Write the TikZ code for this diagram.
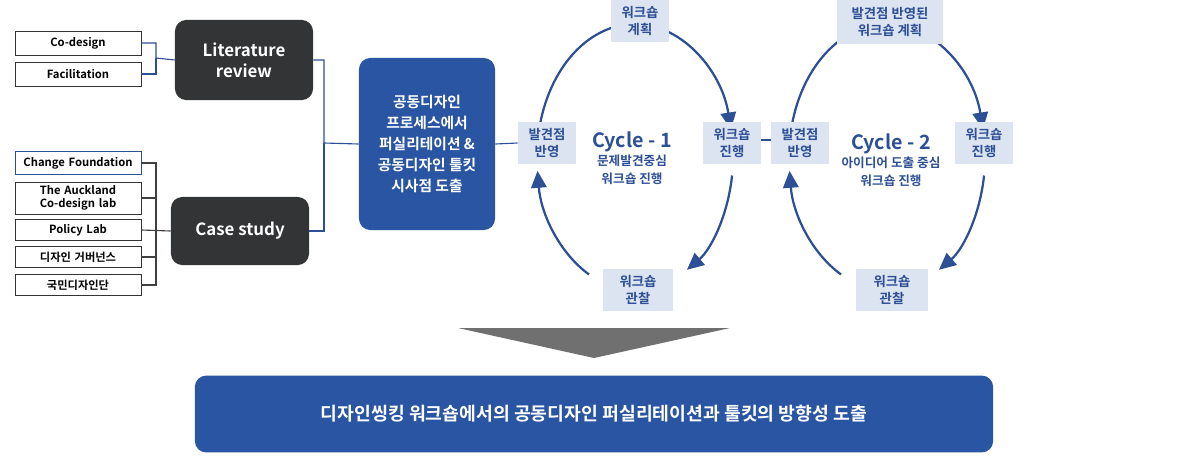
\documentclass[tikz,border=0pt]{standalone}
\usepackage{fontspec}
\setmainfont{Noto Sans CJK KR}[BoldFont={Noto Sans CJK KR Bold}]
\usetikzlibrary{arrows.meta}
\definecolor{darkbox}{HTML}{333435}
\definecolor{mainblue}{HTML}{2A55A3}
\definecolor{lineblue}{HTML}{2D4F96}
\definecolor{paleblue}{HTML}{DCE4F1}
\definecolor{arrowgray}{HTML}{707070}

\begin{document}
\begin{tikzpicture}[x=0.025cm,y=-0.025cm,font=\bfseries,
  item/.style={draw=black!80,line width=0.6pt,minimum width=3.15cm,
    text width=3cm,align=center,font=\bfseries\fontsize{8}{9}\selectfont,inner sep=1pt},
  dark/.style={fill=darkbox,rounded corners=8pt,text=white,align=center,
    font=\bfseries\fontsize{12}{15}\selectfont,minimum width=3.45cm,inner sep=0pt},
  stage/.style={fill=paleblue,text=lineblue,align=center,
    font=\bfseries\fontsize{9.5}{12}\selectfont,inner sep=0pt,minimum height=1.05cm},
  link/.style={lineblue,line width=0.8pt},
  cyc/.style={lineblue,line width=1.6pt},
  tip/.style={-{Triangle[length=12pt,width=11pt]}}]
  \useasboundingbox (0,0) rectangle (1200,462);
  % left items
  \node[item,minimum height=0.6cm] (cod) at (78,43) {Co-design};
  \node[item,minimum height=0.6cm] (fac) at (78,74) {Facilitation};
  \node[item,draw=lineblue,minimum height=0.57cm] (chf) at (78,163) {Change Foundation};
  \node[item,minimum height=0.8cm] (auc) at (78,198) {The Auckland\\Co-design lab};
  \node[item,minimum height=0.52cm] (pol) at (78,230) {Policy Lab};
  \node[item,minimum height=0.52cm] (gov) at (78,257) {디자인 거버넌스};
  \node[item,minimum height=0.52cm] (nat) at (78,285) {국민디자인단};
  % review boxes
  \node[dark,minimum height=2cm] (lit) at (244,60) {Literature\\review};
  \node[dark,minimum height=1.7cm] (case) at (240,231) {Case study};
  \node[fill=mainblue,rounded corners=8pt,text=white,align=center,
    minimum width=3.4cm,minimum height=4.3cm,inner sep=0pt,
    font=\bfseries\fontsize{10.5}{15}\selectfont] (res) at (427,144)
    {공동디자인\\프로세스에서\\퍼실리테이션 \&\\공동디자인 툴킷\\시사점 도출};
  \draw[link] (cod.east) -| (156,58) -- (lit.west);
  \draw[link] (fac.east) -| (156,58);
  \foreach \n in {chf,auc,gov,nat} \draw[link,black!75] (\n.east) -| (156,231);
  \draw[link,black!75] (pol.east) -- (case.west);
  \draw[link] (lit.east) -| (324,143) -- (res.west);
  \draw[link] (case.east) -| (324,143);
  % cycles
  \foreach \c/\cx in {1/635,2/887} {
    \draw[cyc] (\cx,157) ++(-100:98 and 133) arc[start angle=-100,end angle=-170,x radius=98,y radius=133];
    \draw[cyc,tip] (\cx,157) ++(-80:98 and 133) arc[start angle=-80,end angle=-12,x radius=98,y radius=133];
    \draw[cyc,tip] (\cx,157) ++(8:98 and 133) arc[start angle=8,end angle=58,x radius=98,y radius=133];
    \draw[cyc,tip] (\cx,157) ++(118:98 and 133) arc[start angle=118,end angle=174,x radius=98,y radius=133];
  }
  \node[stage,minimum width=1.45cm] (refa) at (547,143) {발견점\\반영};
  \node[stage,minimum width=1.45cm] (plana) at (640,21) {워크숍\\계획};
  \node[stage,minimum width=1.45cm] (runa) at (732,143) {워크숍\\진행};
  \node[stage,minimum width=1.75cm] (obsa) at (638,290) {워크숍\\관찰};
  \node[stage,minimum width=1.45cm] (refb) at (800,143) {발견점\\반영};
  \node[stage,minimum width=2.65cm,minimum height=1.08cm] (planb) at (890,22) {발견점 반영된\\워크숍 계획};
  \node[stage,minimum width=1.45cm] (runb) at (984,143) {워크숍\\진행};
  \node[stage,minimum width=1.78cm] (obsb) at (892,290) {워크숍\\관찰};
  \draw[link] (res.east) -- (refa.west);
  \draw[link] (runa.east |- 0,140) -- (refb.west |- 0,140);
  \node[text=lineblue,align=center,font=\bfseries\fontsize{9}{13}\selectfont] (ca) at (632,158)
    {{\fontsize{14}{17}\selectfont Cycle - 1}\\문제발견중심\\워크숍 진행};
  \node[text=lineblue,align=center,font=\bfseries\fontsize{9}{13}\selectfont] (cb) at (891,160)
    {{\fontsize{14}{17}\selectfont Cycle - 2}\\아이디어 도출 중심\\워크숍 진행};
  % conclusion
  \fill[arrowgray] (458,328) -- (730,328) -- (594,358) -- cycle;
  \node[fill=mainblue,rounded corners=8pt,text=white,minimum width=19.95cm,
    minimum height=1.92cm,font=\bfseries\fontsize{13}{15}\selectfont] (out) at (594,414)
    {디자인씽킹 워크숍에서의 공동디자인 퍼실리테이션과 툴킷의 방향성 도출};
\end{tikzpicture}
\end{document}
